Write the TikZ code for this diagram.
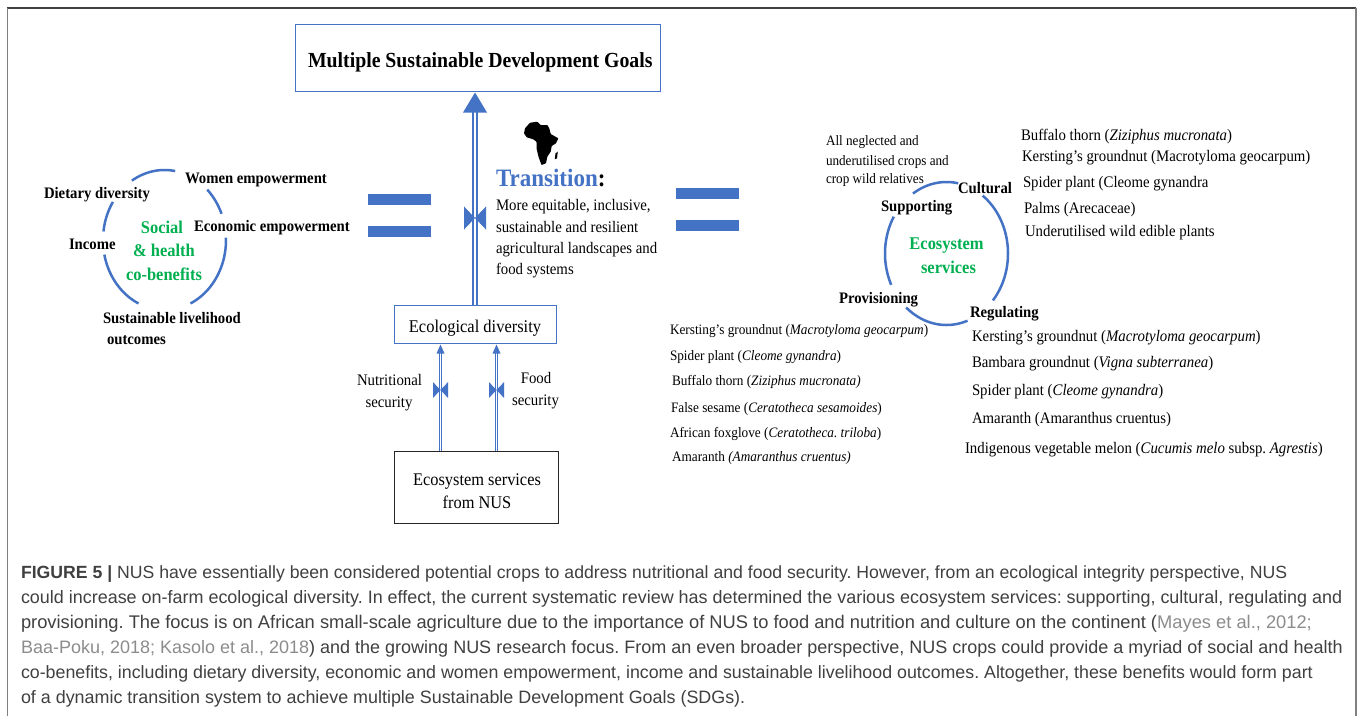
\documentclass[tikz,border=0pt]{standalone}
\usepackage{fontspec}
\setmainfont[FakeStretch=0.92]{Liberation Serif}
\setsansfont{Liberation Sans}
\usetikzlibrary{calc}
\definecolor{bl}{HTML}{4472C4}
\definecolor{gr}{HTML}{00B050}
\definecolor{capt}{HTML}{404040}
\definecolor{cite}{HTML}{8C8C8C}
\newcommand{\fs}[1]{\fontsize{#1}{#1}\selectfont}
\newcommand{\ringarc}[6]{\draw[ringline] plot[domain=#5:#6,samples=40] ({#1+#3*cos(\x)},{#2-#4*sin(\x)});}
\frenchspacing
\tikzset{
 lbl/.style={anchor=base west,inner sep=0pt,outer sep=0pt,text=black},
 lab/.style={lbl,font=\bfseries\fs{16}},
 labc/.style={lbl,anchor=base,font=\fs{16.1}},
 gre/.style={lbl,anchor=base,text=gr,font=\bfseries\fs{17.9}},
 lst/.style={lbl,font=\fs{16.1}},
 lsts/.style={lbl,font=\fs{14.4}},
 ctr/.style={lbl,font=\fs{16.1}},
 capl/.style={lbl,text=capt,font=\sffamily\fs{#1}},
 bluebox/.style={draw=bl,line width=1pt,fill=white,inner sep=0pt},
 bar/.style={fill=bl,inner sep=0pt,minimum width=63pt,minimum height=11pt},
 bigline/.style={draw=bl,line width=1.2pt,double=white,double distance=2.8pt},
 smallline/.style={draw=bl,line width=1.1pt,double=white,double distance=1.5pt},
 ringline/.style={draw=bl,line width=2.5pt},
 valve/.pic={\fill[bl] (-#1,-#1*1.05) -- (#1,#1*1.05) -- (#1,-#1*1.05) -- (-#1,#1*1.05) -- cycle;},
}
\begin{document}
\begin{tikzpicture}[x=1pt,y=-1pt]
\useasboundingbox (0,0) rectangle (1358,716);
\fill[white] (0,0) rectangle (1358,716);
% frame
\draw[draw=black!75,line width=1.5pt] (7,8) -- (1356,8);
\draw[draw=black!50,line width=1.6pt] (7.5,8) -- (7.5,716);
\draw[draw=black!50,line width=1.2pt] (1356,8) -- (1356,716);
% boxes
\node[bluebox,minimum width=365pt,minimum height=67pt] (goals) at (477.5,57.5) {};
\node[lbl,font=\bfseries\fs{21.5}] (goalst) at (308,67) {Multiple Sustainable Development Goals};
\node[bluebox,minimum width=162pt,minimum height=38pt] (ecol) at (475,324) {};
\node[lbl,anchor=base,font=\fs{17.9}] (ecolt) at (475,332) {Ecological diversity};
\node[draw=black!85,line width=1pt,inner sep=0pt,minimum width=164pt,minimum height=72pt] (ecos) at (476,487) {};
\node[lbl,anchor=base,font=\fs{17.8}] (ecost1) at (477,485) {Ecosystem services};
\node[lbl,anchor=base,font=\fs{17.8}] (ecost2) at (477,508) {from NUS};
% connectors
\coordinate (bigv) at (475,218);
\coordinate (nutv) at (440.5,390);
\coordinate (foodv) at (496.5,390);
\draw[bigline] (ecol.north -| bigv) -- ($(goals.south -| bigv)+(0,20)$);
\fill[bl] ($(goals.south -| bigv)+(0,1)$) -- ++(12,20) -- ++(-24,0) -- cycle;
\pic at (bigv) {valve=11};
\draw[smallline] (ecos.north -| nutv) -- ($(ecol.south -| nutv)+(0,9)$);
\fill[bl] ($(ecol.south -| nutv)+(0,1)$) -- ++(4,9) -- ++(-8,0) -- cycle;
\pic at (nutv) {valve=7.5};
\draw[smallline] (ecos.north -| foodv) -- ($(ecol.south -| foodv)+(0,9)$);
\fill[bl] ($(ecol.south -| foodv)+(0,1)$) -- ++(4,9) -- ++(-8,0) -- cycle;
\pic at (foodv) {valve=7.5};
\node[labc] (nut1) at (389.5,385) {Nutritional};
\node[labc] (nut2) at (389,407) {security};
\node[labc] (food1) at (536,383) {Food};
\node[labc] (food2) at (535.5,405) {security};
% equals
\node[bar] (eqa) at (399.5,199.5) {};
\node[bar] (eqb) at (399.5,231.5) {};
\node[bar] (eqc) at (707.5,193.5) {};
\node[bar] (eqd) at (707.5,225) {};
% left ring
\ringarc{164.5}{240}{61.5}{70}{80}{122}
\ringarc{164.5}{240}{61.5}{70}{22}{46}
\ringarc{164.5}{240}{61.5}{70}{-65}{2}
\ringarc{164.5}{240}{61.5}{70}{192}{245}
\ringarc{164.5}{240}{61.5}{70}{147}{173}
\node[lab] (l1) at (44,198) {Dietary diversity};
\node[lab] (l2) at (185,183) {Women empowerment};
\node[lab] (l3) at (194,231) {Economic empowerment};
\node[lab] (l4) at (69,249) {Income};
\node[lab] (l5) at (103,323) {Sustainable livelihood};
\node[lab] (l6) at (107,344) {outcomes};
\node[gre] (g1) at (162,233) {Social};
\node[gre] (g2) at (164,256) {\& health};
\node[gre] (g3) at (164,280) {co-benefits};
% centre text
\fill[black,rounded corners=0.6pt] (525,128.3) -- (530,122.7) -- (537.3,121.7) -- (540.7,125) -- (547.3,125) -- (549.3,128.3) -- (550.7,134) -- (558.3,138.3) -- (556,143.3) -- (551.7,146) -- (550.7,151.7) -- (547.3,156.7) -- (546,163.3) -- (541.5,165) -- (538.5,156.7) -- (536.5,148.3) -- (536.5,141.7) -- (533.3,139.3) -- (526.7,137.3) -- (524,133.3) -- cycle;
\fill[black] (555.5,153.3) -- (557.8,151.7) -- (557,158.3) -- (554.8,159.3) -- cycle;
\node[lbl,font=\bfseries\fs{25}] (tr) at (496,186) {\textcolor{bl}{Transition}:};
\node[ctr] (c1) at (496,210) {More equitable, inclusive,};
\node[ctr] (c2) at (496,232) {sustainable and resilient};
\node[ctr] (c3) at (496,253) {agricultural landscapes and};
\node[ctr] (c4) at (496,274) {food systems};
% right ring
\ringarc{946.5}{253.5}{61.5}{71.5}{79}{123}
\ringarc{946.5}{253.5}{61.5}{71.5}{-41}{54}
\ringarc{946.5}{253.5}{61.5}{71.5}{149}{206}
\ringarc{946.5}{253.5}{61.5}{71.5}{229}{290}
\node[lbl,font=\fs{14.3}] (a1) at (826,145) {All neglected and};
\node[lbl,font=\fs{14.3}] (a2) at (826,165) {underutilised crops and};
\node[lbl,font=\fs{14.3}] (a3) at (826,183) {crop wild relatives};
\node[lab] (r1) at (958,193) {Cultural};
\node[lab] (r2) at (881,211) {Supporting};
\node[lab] (r3) at (839,303) {Provisioning};
\node[lab] (r4) at (970,317) {Regulating};
\node[gre] (g4) at (946.5,249) {Ecosystem};
\node[gre] (g5) at (948.5,273) {services};
% lists
\node[lst] (t1) at (1021,140) {Buffalo thorn (\textit{Ziziphus mucronata})};
\node[lst] (t2) at (1022,161) {Kersting’s groundnut (Macrotyloma geocarpum)};
\node[lst] (t3) at (1023,187) {Spider plant (Cleome gynandra};
\node[lst] (t4) at (1024,213) {Palms (Arecaceae)};
\node[lst] (t5) at (1025,236) {Underutilised wild edible plants};
\node[lsts] (p1) at (670,334) {Kersting’s groundnut (\textit{Macrotyloma geocarpum})};
\node[lsts] (p2) at (670,360) {Spider plant (\textit{Cleome gynandra})};
\node[lsts] (p3) at (672,385) {Buffalo thorn (\textit{Ziziphus mucronata)}};
\node[lsts] (p4) at (671,412) {False sesame (\textit{Ceratotheca sesamoides})};
\node[lsts] (p5) at (670,437) {African foxglove (\textit{Ceratotheca. triloba})};
\node[lsts] (p6) at (672,461) {Amaranth \textit{(Amaranthus cruentus)}};
\node[lst] (q1) at (972,341) {Kersting’s groundnut (\textit{Macrotyloma geocarpum})};
\node[lst] (q2) at (972,367) {Bambara groundnut (\textit{Vigna subterranea})};
\node[lst] (q3) at (972,395) {Spider plant (\textit{Cleome gynandra})};
\node[lst] (q4) at (972,423) {Amaranth (Amaranthus cruentus)};
\node[lst] (q5) at (965,453) {Indigenous vegetable melon (\textit{Cucumis melo} subsp. \textit{Agrestis})};
% caption
\node[capl=17.65] (cap1) at (21,578) {\textbf{FIGURE 5 |} NUS have essentially been considered potential crops to address nutritional and food security. However, from an ecological integrity perspective, NUS};
\node[capl=17.95] (cap2) at (21,603) {could increase on-farm ecological diversity. In effect, the current systematic review has determined the various ecosystem services: supporting, cultural, regulating and};
\node[capl=18.3] (cap3) at (21,628) {provisioning. The focus is on African small-scale agriculture due to the importance of NUS to food and nutrition and culture on the continent (\textcolor{cite}{Mayes et al., 2012;}};
\node[capl=18] (cap4) at (21,653) {\textcolor{cite}{Baa-Poku, 2018; Kasolo et al., 2018}) and the growing NUS research focus. From an even broader perspective, NUS crops could provide a myriad of social and health};
\node[capl=17.8] (cap5) at (21,678) {co-benefits, including dietary diversity, economic and women empowerment, income and sustainable livelihood outcomes. Altogether, these benefits would form part};
\node[capl=17.9] (cap6) at (21,703) {of a dynamic transition system to achieve multiple Sustainable Development Goals (SDGs).};
\end{tikzpicture}
\end{document}
